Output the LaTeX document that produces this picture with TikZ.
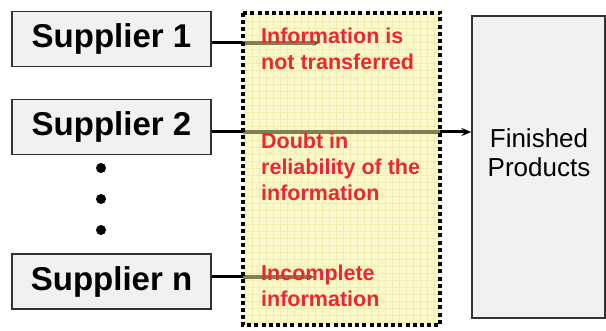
\documentclass[tikz,border=0pt]{standalone}
\usepackage{fontspec}
\setmainfont{Liberation Sans}
\usetikzlibrary{
    arrows.meta,
    calc,
    positioning
}
\definecolor{boxgray}{HTML}{F0F1F0}
\definecolor{padyellow}{HTML}{FBF8CC}
\definecolor{padgrid}{HTML}{F1EDAE}
\definecolor{issuered}{HTML}{EC2730}
\definecolor{pipe}{HTML}{5A5A2C}
\tikzset{
    every picture/.style = {
        > = Stealth,
        x = 1pt,
        y = -1pt
    },
    supplier/.style = {
        draw = black!80,
        line width = 1.3pt,
        fill = boxgray,
        minimum width = 199pt,
        minimum height = 55pt,
        inner sep = 0pt,
        font = \fontsize{33}{38}\selectfont\bfseries
    },
    issue/.style = {
        text = issuered,
        align = left,
        anchor = north west,
        inner sep = 0pt,
        font = \fontsize{21.5}{26}\selectfont\bfseries
    },
    feed/.style = {line width = 3pt},
    pipeline/.style = {pipe, opacity = 0.75, line width = 3.2pt},
    rim/.style = {
        line width = 4pt,
        dash pattern = on 4pt off 3.2pt
    }
}

\begin{document}
\begin{tikzpicture}
    \useasboundingbox (0, 0) rectangle (606, 331);

    % suppliers
    \node[supplier] (sup1) at (111.5, 39) {Supplier 1};
    \node[supplier] (sup2) at (111.5, 127) {Supplier 2};
    \node[supplier] (supn) at (111.5, 281.5) {Supplier n};
    \foreach \yy in {168, 199, 230}
        \fill (101, \yy) circle (5pt);

    % the yellow pad
    \node[minimum width = 197pt, minimum height = 312pt, inner sep = 0pt] (zone) at (341.5, 169) {};
    \fill[padyellow] (zone.north west) rectangle (zone.south east);
    \draw[padgrid, line width = 0.6pt] (243, 13) grid[step = 7pt] (440, 325);

    % finished products
    \node[draw = black!80, line width = 1.3pt, fill = boxgray, minimum width = 133pt, minimum height = 302pt] (fin) at (538.5, 167) {};
    \node[font = \fontsize{26}{29}\selectfont, align = center] (finlabel) at (539, 153) {Finished\\Products};

    \coordinate (tap1) at (0, 43);
    \coordinate (tap2) at (0, 132);
    \coordinate (tapn) at (0, 277);

    \draw[feed] (sup1.east |- tap1) -- (tap1 -| zone.west);
    \draw[feed] (sup2.east |- tap2) -- (tap2 -| zone.west);
    \draw[feed] (supn.east |- tapn) -- (tapn -| zone.west);

    \draw[pipeline, -{Stealth[length = 7pt, width = 6pt]}] (tap1 -| zone.west) -- ++(77, 0);
    \draw[pipeline] (tap2 -| zone.west) -- (tap2 -| zone.east);
    \draw[pipeline, -{Stealth[length = 7pt, width = 6pt]}] (tapn -| zone.west) -- ++(72, 0);

    \draw[feed, -{Stealth[length = 10pt, width = 8pt]}] (tap2 -| zone.east) -- (tap2 -| fin.west);

    % problems
    \node[issue] (issue1) at (261, 28) {Information is\\not transferred};
    \node[issue] (issue2) at (261, 133) {Doubt in\\reliability of the\\information};
    \node[issue] (issue3) at (261, 265) {Incomplete\\information};

    \draw[rim] (zone.north west) rectangle (zone.south east);
\end{tikzpicture}
\end{document}
